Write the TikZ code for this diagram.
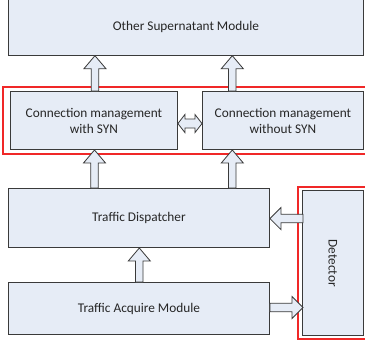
\documentclass[tikz,border=0pt]{standalone}
\usepackage{fontspec}
\setmainfont{Carlito}
\usetikzlibrary{calc}
\definecolor{boxfill}{HTML}{E6ECF6}
\definecolor{boxline}{HTML}{3A3A3A}
\definecolor{redline}{HTML}{F02828}
\tikzset{
  box/.style={draw=boxline, fill=boxfill, line width=0.9pt, inner sep=0pt, align=center,
    font=\fontsize{13.3}{16}\selectfont, text=black!85},
  groupframe/.style={draw=redline, line width=1.1pt},
  blockarr/.style={draw=boxline, fill=boxfill, line width=0.8pt, line join=miter}
}
% vertical block arrow pointing up: #1 tail point, #2 point giving tip height
\newcommand\blkup[2]{%
  \draw[blockarr] let \p1=(#1), \p2=(#2) in
    (\x1-3.75pt,\y1) -- (\x1-3.75pt,\y2-13pt) -- (\x1-11pt,\y2-13pt) -- (\x1,\y2)
    -- (\x1+11pt,\y2-13pt) -- (\x1+3.75pt,\y2-13pt) -- (\x1+3.75pt,\y1) -- cycle;}
% horizontal block arrow: #1 tail point, #2 point giving tip x
\newcommand\blkhor[2]{%
  \draw[blockarr] let \p1=(#1), \p2=(#2), \n1={sign(\x2-\x1)} in
    (\x1,\y1+4.25pt) -- (\x2-\n1*11pt,\y1+4.25pt) -- (\x2-\n1*11pt,\y1+11pt) -- (\x2,\y1)
    -- (\x2-\n1*11pt,\y1-11pt) -- (\x2-\n1*11pt,\y1-4.25pt) -- (\x1,\y1-4.25pt) -- cycle;}
% double horizontal block arrow between #1 (left) and #2 (right)
\newcommand\blkdouble[2]{%
  \draw[blockarr] let \p1=(#1), \p2=(#2) in
    (\x1,\y1) -- (\x1+7pt,\y1+9pt) -- (\x1+7pt,\y1+4.5pt) -- (\x2-7pt,\y1+4.5pt)
    -- (\x2-7pt,\y1+9pt) -- (\x2,\y1) -- (\x2-7pt,\y1-9pt) -- (\x2-7pt,\y1-4.5pt)
    -- (\x1+7pt,\y1-4.5pt) -- (\x1+7pt,\y1-9pt) -- cycle;}
\begin{document}
\begin{tikzpicture}[x=1pt,y=1pt]
\useasboundingbox[fill=white] (0,0) rectangle (365,345);
% red group frames
\draw[groupframe] (3,191) rectangle (368,258);
\draw[groupframe] (298,6) rectangle (368,158);
% boxes
\node[box, minimum width=355pt, minimum height=57.5pt, anchor=south west] (top) at (8,289.3) {Other Supernatant Module};
\node[box, minimum width=167pt, minimum height=58pt, anchor=south west] (c1) at (10,195) {Connection management\\with SYN};
\node[box, minimum width=161pt, minimum height=58pt, anchor=south west] (c2) at (202,195) {Connection management\\without SYN};
\node[box, minimum width=261pt, minimum height=59pt, anchor=south west] (disp) at (8,97) {Traffic Dispatcher};
\node[box, minimum width=261pt, minimum height=52pt, anchor=south west] (acq) at (8,10) {Traffic Acquire Module};
\node[box, minimum width=61pt, minimum height=145pt, anchor=south west] (det) at (302,9) {};
\node[font=\fontsize{13.3}{16}\selectfont, text=black!85, rotate=-90] (detl) at (det.center) {Detector};
% connectors
\blkup{$(c1.north)+(1pt,0)$}{top.south}
\blkup{$(c2.north west)+(30.3pt,0)$}{top.south}
\blkup{$(disp.north west)+(86.5pt,0)$}{c1.south}
\blkup{$(disp.north west)+(224.3pt,0)$}{c2.south}
\blkup{$(acq.north west)+(131.3pt,0)$}{disp.south}
\blkdouble{$(c1.east)+(0,-3pt)$}{c2.west}
\blkhor{$(det.west)+(1pt,44.5pt)$}{disp.east}
\blkhor{$(acq.east)+(0,1pt)$}{$(det.west)+(1pt,0)$}
\end{tikzpicture}
\end{document}
